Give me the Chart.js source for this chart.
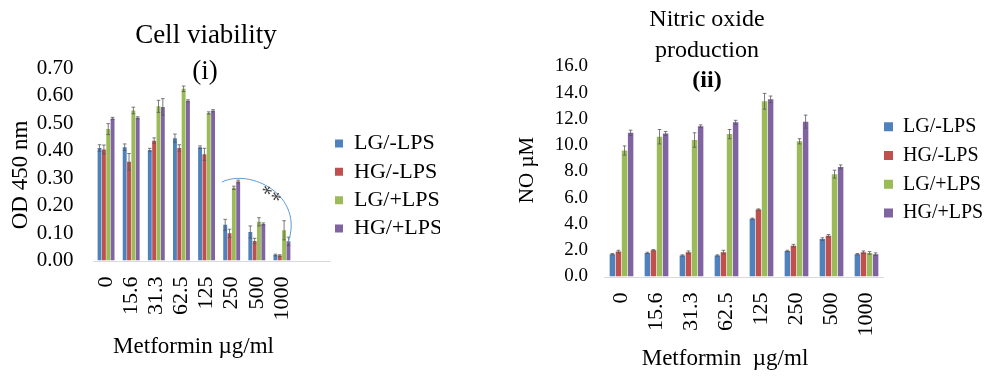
<!DOCTYPE html>
<html>
<head>
<meta charset="utf-8">
<script src="https://cdn.jsdelivr.net/npm/chart.js@4.4.1/dist/chart.umd.min.js"></script>
<style>
    html, body { margin: 0; padding: 0; background: #fff; overflow: hidden; }
    body { width: 984px; height: 376px; position: relative; }
    .panel { position: absolute; top: 0; }
    #viabilityPanel { left: 0; }
    #noPanel { left: 480px; }
</style>
</head>
<body>
<div class="panel" id="viabilityPanel"><canvas id="viabilityChart" width="440" height="376"></canvas></div>
<div class="panel" id="noPanel"><canvas id="noChart" width="504" height="376"></canvas></div>
<script>
// 公共分类
const doses = ['0', '15.6', '31.3', '62.5', '125', '250', '500', '1000'];
const groups = ['LG/-LPS', 'HG/-LPS', 'LG/+LPS', 'HG/+LPS'];

// (i) 细胞活力 OD 450 nm
const odLgNeg = [0.410, 0.413, 0.403, 0.446, 0.413, 0.130, 0.104, 0.020];
const odHgNeg = [0.405, 0.360, 0.437, 0.410, 0.387, 0.099, 0.071, 0.018];
const odLgPos = [0.479, 0.547, 0.562, 0.626, 0.538, 0.265, 0.141, 0.110];
const odHgPos = [0.518, 0.520, 0.560, 0.582, 0.546, 0.288, 0.133, 0.070];
const odErrLgNeg = [0.012, 0.012, 0.006, 0.015, 0.005, 0.020, 0.022, 0.003];
const odErrHgNeg = [0.016, 0.030, 0.010, 0.012, 0.022, 0.015, 0.010, 0.003];
const odErrLgPos = [0.020, 0.012, 0.022, 0.010, 0.004, 0.006, 0.015, 0.035];
const odErrHgPos = [0.004, 0.004, 0.030, 0.004, 0.004, 0.005, 0.004, 0.015];
const odTicks = [0, 0.7, 0.1];   // min, max, step

// (ii) NO 生成 μM
const noLgNeg = [1.70, 1.80, 1.60, 1.60, 4.40, 1.95, 2.85, 1.70];
const noHgNeg = [1.90, 2.00, 1.85, 1.85, 5.10, 2.35, 3.10, 1.85];
const noLgPos = [9.60, 10.65, 10.40, 10.85, 13.35, 10.30, 7.80, 1.80];
const noHgPos = [10.95, 10.90, 11.45, 11.75, 13.50, 11.80, 8.35, 1.70];
const noErrLgNeg = [0.05, 0.05, 0.05, 0.05, 0.05, 0.05, 0.10, 0.05];
const noErrHgNeg = [0.10, 0.05, 0.10, 0.15, 0.05, 0.10, 0.10, 0.10];
const noErrLgPos = [0.35, 0.55, 0.55, 0.35, 0.60, 0.20, 0.30, 0.10];
const noErrHgPos = [0.20, 0.15, 0.10, 0.15, 0.25, 0.50, 0.15, 0.10];
const noTicks = [0, 16, 2];

// 显著性弧线 (分类序号, 数值)
const sigCurve = [[4.61, 0.286], [5.73, 0.337], [7.92, 0.239], [7.24, 0.064]];
const sigText = '**';
const sigAt = [6.6, 0.246];

const colors = ['#4f81bd', '#c0504d', '#9bbb59', '#8064a2'];
const serif = '"Liberation Serif", "Times New Roman", serif';

Chart.defaults.font.family = serif;
Chart.defaults.color = '#000';

// 误差线
const errorBars = {
    id: 'errorBars',
    afterDatasetsDraw(chart, args, opts) {
        const ctx = chart.ctx;
        const y = chart.scales.y;
        ctx.save();
        ctx.strokeStyle = opts.color;
        ctx.lineWidth = opts.width;
        chart.data.datasets.forEach((ds, i) => {
            chart.getDatasetMeta(i).data.forEach((bar, j) => {
                const v = ds.data[j];
                const e = ds.errors[j];
                const top = y.getPixelForValue(v + e);
                const bot = y.getPixelForValue(v - e);
                const x = bar.x;
                ctx.beginPath();
                ctx.moveTo(x, top); ctx.lineTo(x, bot);
                ctx.moveTo(x - opts.cap, top); ctx.lineTo(x + opts.cap, top);
                ctx.moveTo(x - opts.cap, bot); ctx.lineTo(x + opts.cap, bot);
                ctx.stroke();
            });
        });
        ctx.restore();
    }
};

// 横轴基线
const baseline = {
    id: 'baseline',
    beforeDatasetsDraw(chart, args, opts) {
        const { ctx, chartArea } = chart;
        const y0 = Math.round(chart.scales.y.getPixelForValue(0)) + 0.5;
        ctx.save();
        ctx.strokeStyle = opts.color;
        ctx.lineWidth = 1;
        ctx.beginPath();
        ctx.moveTo(chartArea.left, y0);
        ctx.lineTo(chartArea.right + opts.extend, y0);
        ctx.stroke();
        ctx.restore();
    }
};

// 标题和坐标轴名称
const captions = {
    id: 'captions',
    afterDraw(chart, args, opts) {
        const ctx = chart.ctx;
        opts.items.forEach(it => {
            ctx.save();
            ctx.font = `${it.bold ? 'bold ' : ''}${it.size}px ${serif}`;
            ctx.fillStyle = '#000';
            ctx.textAlign = 'center';
            ctx.textBaseline = 'alphabetic';
            ctx.translate(it.x, it.y);
            if (it.rotate) ctx.rotate(it.rotate * Math.PI / 180);
            ctx.fillText(it.text, 0, 0);
            ctx.restore();
        });
    }
};

// 图例位置微调
const legendNudge = {
    id: 'legendNudge',
    afterLayout(chart, args, opts) {
        const lg = chart.legend;
        lg.left += opts.dx;
        lg.right = lg.left + opts.w;
        lg.width = opts.w;
        lg.top += opts.dy;
        lg.bottom += opts.dy;
    }
};

// 显著性标记
const sigMark = {
    id: 'sigMark',
    afterDatasetsDraw(chart, args, opts) {
        if (!opts.curve) return;
        const { ctx, scales: { x, y } } = chart;
        const p = opts.curve.map(([i, v]) => [x.getPixelForValue(i), y.getPixelForValue(v)]);
        ctx.save();
        ctx.strokeStyle = '#5b9bd5';
        ctx.lineWidth = 1;
        ctx.beginPath();
        ctx.moveTo(p[0][0], p[0][1]);
        ctx.bezierCurveTo(p[1][0], p[1][1], p[2][0], p[2][1], p[3][0], p[3][1]);
        ctx.stroke();
        ctx.translate(x.getPixelForValue(opts.at[0]), y.getPixelForValue(opts.at[1]));
        ctx.rotate(35 * Math.PI / 180);
        ctx.font = `22px ${serif}`;
        ctx.fillStyle = '#404040';
        ctx.textAlign = 'center';
        ctx.textBaseline = 'middle';
        ctx.fillText(opts.text, 0, 5);
        ctx.restore();
    }
};

function makeDatasets(series, errors, catPct) {
    return series.map((data, k) => ({
        label: groups[k],
        data: data,
        errors: errors[k],
        backgroundColor: colors[k],
        borderWidth: 0,
        categoryPercentage: catPct,
        barPercentage: 0.9
    }));
}

function makeChart(id, cfg) {
    return new Chart(document.getElementById(id).getContext('2d'), {
        type: 'bar',
        data: {
            labels: doses,
            datasets: makeDatasets(cfg.series, cfg.errors, cfg.catPct)
        },
        options: {
            responsive: false,
            animation: false,
            events: [],
            layout: { padding: cfg.padding },
            scales: {
                x: {
                    grid: { display: false, drawTicks: false },
                    border: { display: false },
                    ticks: {
                        autoSkip: false,
                        minRotation: 90,
                        maxRotation: 90,
                        padding: 16,
                        font: { size: 22 }
                    },
                    afterFit: s => { s.height = cfg.xHeight; }
                },
                y: {
                    min: cfg.ticks[0],
                    max: cfg.ticks[1],
                    grid: { display: false, drawTicks: false },
                    border: { display: false },
                    ticks: {
                        autoSkip: false,
                        stepSize: cfg.ticks[2],
                        padding: cfg.yPad,
                        font: { size: cfg.yFont },
                        callback: v => v.toFixed(cfg.digits)
                    },
                    afterFit: s => { s.width = cfg.yWidth; }
                }
            },
            plugins: {
                tooltip: { enabled: false },
                legend: {
                    position: 'right',
                    fullSize: false,
                    maxWidth: cfg.legendMax,
                    labels: {
                        boxWidth: cfg.box,
                        boxHeight: cfg.box,
                        padding: cfg.legendPad,
                        color: '#000',
                        font: { size: cfg.legendFont }
                    }
                },
                legendNudge: cfg.nudge,
                baseline: { color: '#d9d9d9', extend: cfg.extend },
                errorBars: { color: '#595959', width: 0.8, cap: 1.8 },
                captions: { items: cfg.captions },
                sigMark: cfg.sig || {}
            }
        },
        plugins: [baseline, errorBars, sigMark, captions, legendNudge]
    });
}

function initCharts() {
    const viability = makeChart('viabilityChart', {
        series: [odLgNeg, odHgNeg, odLgPos, odHgPos],
        errors: [odErrLgNeg, odErrHgNeg, odErrLgPos, odErrHgPos],
        ticks: odTicks,
        digits: 2,
        catPct: 0.69,
        padding: { left: 0, top: 68.5, right: 45.5, bottom: 0 },
        xHeight: 115.5,
        yWidth: 93.5,
        yPad: 20,
        yFont: 21,
        legendMax: 100,
        box: 8,
        legendPad: 6.3,
        legendFont: 22,
        nudge: { dx: 34.2, dy: 21.5, w: 150 },
        extend: 36,
        captions: [
            { text: 'Cell viability', x: 206, y: 43, size: 27 },
            { text: '(i)', x: 205, y: 79, size: 27 },
            { text: 'OD 450 nm', x: 27, y: 175, size: 23, rotate: -90 },
            { text: 'Metformin µg/ml', x: 193.5, y: 353, size: 23 }
        ],
        sig: { curve: sigCurve, at: sigAt, text: sigText }
    });
    const nitric = makeChart('noChart', {
        series: [noLgNeg, noHgNeg, noLgPos, noHgPos],
        errors: [noErrLgNeg, noErrHgNeg, noErrLgPos, noErrHgPos],
        ticks: noTicks,
        digits: 1,
        catPct: 0.695,
        padding: { left: 0, top: 66.5, right: 40, bottom: 0 },
        xHeight: 99.5,
        yWidth: 124,
        yPad: 16,
        yFont: 19,
        legendMax: 60,
        box: 9,
        legendPad: 8.8,
        legendFont: 20,
        nudge: { dx: -8.8, dy: -1.6, w: 130 },
        extend: 0,
        captions: [
            { text: 'Nitric oxide', x: 227, y: 26, size: 24 },
            { text: 'production', x: 227, y: 57, size: 24 },
            { text: '(ii)', x: 227, y: 87, size: 24, bold: true },
            { text: 'NO µM', x: 53, y: 170, size: 21, rotate: -90 },
            { text: 'Metformin  µg/ml', x: 245, y: 365, size: 23 }
        ]
    });
    return { viability, nitric };
}

initCharts();
</script>
</body>
</html>
